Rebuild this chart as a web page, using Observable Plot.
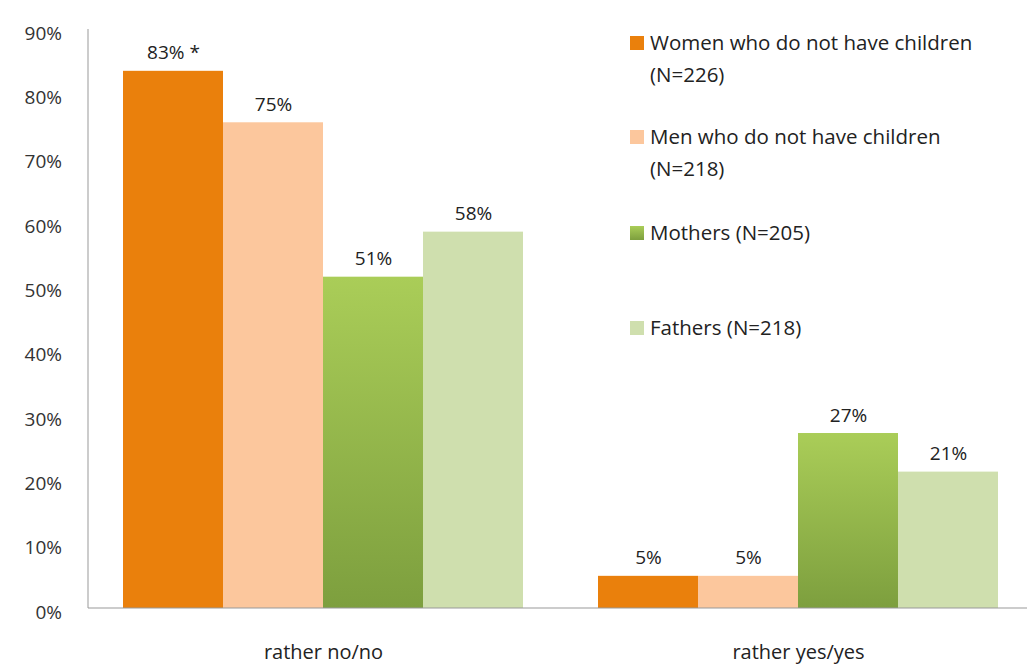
<!DOCTYPE html>
<html><head><meta charset="utf-8">
<script src="https://cdn.jsdelivr.net/npm/d3@7"></script>
<script src="https://cdn.jsdelivr.net/npm/@observablehq/plot@0.6"></script>
<style>
body{margin:0;background:#fff;font-family:"Open Sans",sans-serif;}
#wrap{position:relative;width:1027px;height:667px;overflow:hidden;}
#legend{position:absolute;left:630px;top:26px;font-size:20.5px;color:#222;line-height:32px;}
.item{position:absolute;left:0;white-space:nowrap;}
.sw{position:absolute;left:0;top:10px;width:14px;height:14px;}
.lt{position:absolute;left:20px;top:0;}
</style></head><body>
<div id="wrap"><div id="legend"></div></div>
<script>
const categories = ["rather no/no", "rather yes/yes"];
const series = ["Women who do not have children (N=226)", "Men who do not have children (N=218)", "Mothers (N=205)", "Fathers (N=218)"];
const noValues = [0.835, 0.755, 0.515, 0.585];
const yesValues = [0.05, 0.05, 0.272, 0.212];
const labelsNo = ["83% *", "75%", "51%", "58%"];
const labelsYes = ["5%", "5%", "27%", "21%"];
const colors = ["#ea800c", "#fcc79d", "url(#mg)", "#cfdfae"];

const data = [];
series.forEach((s,i)=>{
  data.push({cat:categories[0], s, v:noValues[i], label:labelsNo[i]});
  data.push({cat:categories[1], s, v:yesValues[i], label:labelsYes[i]});
});

const chart = Plot.plot({
  width:1027, height:667, marginLeft:88, marginRight:0, marginTop:29, marginBottom:59,
  style:{fontFamily:"Open Sans, sans-serif", fontSize:"18px", color:"#333", background:"#fff"},
  fx:{domain:categories, paddingInner:0.158, paddingOuter:0.0655, align:0.55, label:null, axis:null},
  x:{domain:series, padding:0, axis:null},
  y:{domain:[0,0.9], axis:null},
  color:{domain:series, range:colors},
  marks:[
    Plot.barY(data,{fx:"cat", x:"s", y:"v", fill:"s"}),
    Plot.text(data,{fx:"cat", x:"s", y:"v", text:"label", dy:-18, fontSize:19, fill:"#222"}),
    Plot.axisFx({anchor:"bottom", tickSize:0, tickPadding:36, fontSize:20, fill:"#222", label:null}),
  ]
});
const y = chart.scale("y");
const svg = d3.select(chart);
svg.append("defs").html('<linearGradient id="mg" x1="0" y1="0" x2="0" y2="1"><stop offset="0" stop-color="#aacd58"/><stop offset="1" stop-color="#7d9f3e"/></linearGradient>');
const g = svg.append("g");
g.append("line").attr("x1",88).attr("x2",88).attr("y1",y.apply(0.9)).attr("y2",y.apply(0)).attr("stroke","#999");
g.append("line").attr("x1",88).attr("x2",1027).attr("y1",y.apply(0)).attr("y2",y.apply(0)).attr("stroke","#999");
d3.range(0,10).forEach(k=>{
  g.append("text").attr("x",62).attr("y",y.apply(k/10)+4).attr("dy","0.35em").attr("text-anchor","end")
   .attr("font-size",19).attr("fill","#333").text(k*10+"%");
});
document.getElementById("wrap").prepend(chart);

const legendLines = [["Women who do not have children","(N=226)"],["Men who do not have children","(N=218)"],["Mothers (N=205)"],["Fathers (N=218)"]];
const tops = [0, 94, 190, 285];
const swatch = ["#ea800c","#fcc79d","linear-gradient(#aacd58,#7d9f3e)","#cfdfae"];
const leg = document.getElementById("legend");
legendLines.forEach((l,i)=>{
  const d = document.createElement("div"); d.className="item"; d.style.top=tops[i]+"px";
  d.innerHTML = `<div class="sw" style="background:${swatch[i]}"></div><div class="lt">${l.join("<br>")}</div>`;
  leg.appendChild(d);
});
</script></body></html>
